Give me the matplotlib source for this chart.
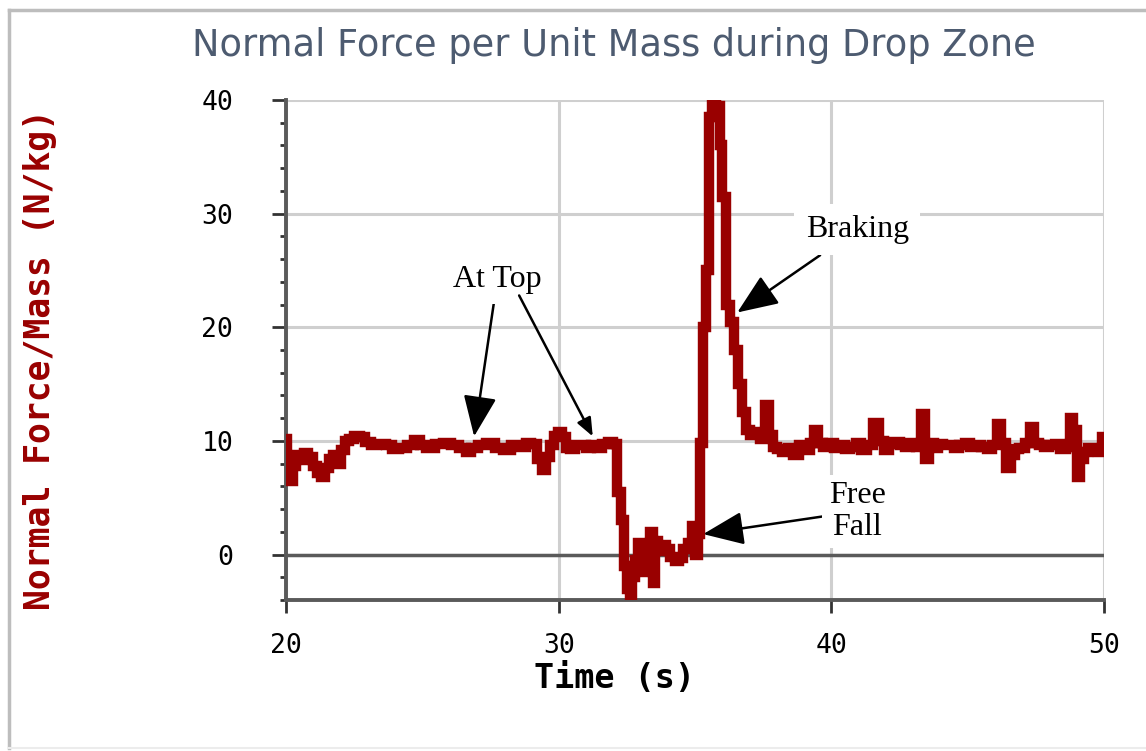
import matplotlib

matplotlib.use("Agg")
import matplotlib.pyplot as plt
from matplotlib.lines import Line2D
from matplotlib.ticker import MultipleLocator

# time (s) and normal force per unit mass (N/kg)
time_s = [
    20.0, 20.1, 20.2, 20.3, 20.45, 20.6, 20.75, 20.9, 21.05, 21.2, 21.35, 21.5,
    21.65, 21.8, 21.95, 22.1, 22.25, 22.4, 22.6, 22.8, 23.0, 23.2, 23.5, 23.8,
    24.0, 24.3, 24.6, 24.8, 25.0, 25.3, 25.6, 25.9, 26.2, 26.5, 26.7, 26.9,
    27.2, 27.5, 27.8, 28.1, 28.4, 28.7, 28.9, 29.1, 29.3, 29.45, 29.6, 29.75,
    29.9, 30.05, 30.2, 30.35, 30.5, 30.7, 30.9, 31.1, 31.3, 31.5, 31.7, 31.9,
    32.1, 32.2, 32.35, 32.45, 32.55, 32.65, 32.75, 32.85, 32.95, 33.05, 33.15,
    33.3, 33.4, 33.5, 33.6, 33.7, 33.85, 34.0, 34.2, 34.35, 34.5, 34.65, 34.8,
    34.95, 35.05, 35.15, 35.25, 35.35, 35.45, 35.55, 35.7, 35.85, 35.95, 36.05,
    36.2, 36.35, 36.5, 36.65, 36.8, 36.95, 37.1, 37.3, 37.5, 37.65, 37.8, 37.95,
    38.1, 38.3, 38.5, 38.7, 38.9, 39.1, 39.3, 39.45, 39.6, 39.8, 40.0, 40.2,
    40.4, 40.6, 40.8, 41.0, 41.2, 41.4, 41.65, 41.85, 42.0, 42.2, 42.4, 42.6,
    42.8, 43.0, 43.2, 43.35, 43.5, 43.65, 43.85, 44.0, 44.2, 44.4, 44.6, 44.8,
    45.0, 45.2, 45.4, 45.6, 45.8, 46.0, 46.15, 46.3, 46.5, 46.65, 46.8, 47.0,
    47.2, 47.35, 47.5, 47.7, 47.9, 48.1, 48.3, 48.5, 48.7, 48.8, 48.95, 49.05,
    49.2, 49.35, 49.5, 49.7, 49.85, 50.0,
]
force_per_mass = [
    10.2, 7.5, 6.5, 7.8, 8.8, 8.3, 8.9, 8.6, 7.8, 7.2, 6.8, 7.6,
    8.4, 8.8, 8.0, 9.2, 10.0, 10.2, 10.4, 10.3, 9.9, 9.6, 9.7, 9.6,
    9.3, 9.4, 9.6, 10.1, 9.6, 9.4, 9.7, 9.8, 9.6, 9.4, 9.0, 9.4,
    9.6, 9.8, 9.4, 9.2, 9.6, 9.5, 9.8, 9.7, 8.4, 7.4, 8.6, 9.6,
    10.4, 10.8, 10.3, 9.4, 9.3, 9.6, 9.6, 9.4, 9.6, 9.4, 9.7, 9.9,
    9.7, 5.5, 3.0, -1.0, -3.0, -3.8, -2.0, -0.5, 1.0, -1.5, 0.2,
    0.8, 2.0, -2.5, 1.2, 0.3, 0.8, 0.5, -0.2, -0.6, -0.3, 0.5, 1.0,
    2.5, 0.0, 1.8, 9.8, 20.0, 25.0, 38.5, 39.8, 39.5, 36.0, 31.5,
    22.0, 20.5, 18.0, 15.0, 12.5, 11.0, 10.5, 10.8, 10.2, 13.2, 10.5, 9.5,
    9.3, 9.0, 9.4, 8.8, 9.6, 9.2, 9.8, 11.0, 9.8, 9.5, 9.8, 9.4,
    9.6, 9.3, 9.5, 9.8, 9.2, 9.6, 11.6, 10.0, 9.2, 9.7, 9.9, 9.6,
    9.5, 9.8, 9.5, 12.4, 8.4, 9.8, 9.4, 9.7, 9.6, 9.6, 9.4, 9.6,
    9.8, 9.5, 9.6, 9.5, 9.3, 9.6, 11.5, 9.8, 7.6, 8.8, 9.3, 9.4,
    9.8, 11.2, 9.8, 9.6, 9.5, 9.6, 9.7, 9.3, 9.5, 12.0, 11.0, 6.8,
    8.4, 9.0, 9.4, 9.2, 9.0, 10.3,
]

x_ticks = [20, 30, 40, 50]
y_ticks = [0, 10, 20, 30, 40]

LINE_RED = "#990000"
GRID = "#cfcfcf"
AXIS_GREY = "#5a5a5a"

fig = plt.figure(figsize=(11.46, 7.51), dpi=100)
ax = fig.add_axes([286 / 1146, 1 - 600 / 751, 818 / 1146, 500 / 751])

ax.set_xlim(20, 50)
ax.set_ylim(-4, 40)
ax.set_xticks(x_ticks)
ax.set_yticks(y_ticks)
ax.yaxis.set_minor_locator(MultipleLocator(2))
ax.grid(True, color=GRID, lw=2.2, zorder=0)
ax.axhline(0, color=AXIS_GREY, lw=2.5, zorder=2.5)

for side in ("top", "right"):
    ax.spines[side].set_visible(False)
for side in ("left", "bottom"):
    ax.spines[side].set_color(AXIS_GREY)
    ax.spines[side].set_linewidth(2.8)

ax.tick_params(axis="y", which="major", length=10, width=2, color="#333333",
               pad=28, labelsize=19)
ax.tick_params(axis="y", which="minor", length=4, width=2, color="#333333")
ax.tick_params(axis="x", which="major", length=9, width=2, color="#333333",
               pad=15, labelsize=19)
for lab in ax.get_xticklabels() + ax.get_yticklabels():
    lab.set_family("DejaVu Sans Mono")

ax.plot(time_s, force_per_mass, color=LINE_RED, lw=7.5, drawstyle="steps-mid",
        solid_joinstyle="miter", zorder=3)

# annotations
arrow = dict(arrowstyle="-|>,head_length=1.1,head_width=0.45", color="black",
             lw=1.8, shrinkA=0, shrinkB=0)
text_kw = dict(family="Liberation Serif", fontsize=23, ha="center", va="center",
               zorder=6)
ax.annotate("At Top", xy=(26.9, 10.4), xytext=(27.75, 24.2), arrowprops=arrow,
            bbox=dict(boxstyle="square,pad=0.3", fc="white", ec="none"), **text_kw)
ax.annotate("", xy=(31.25, 10.4), xytext=(28.55, 22.8), arrowprops=arrow, zorder=6)
ax.annotate("Braking", xy=(36.55, 21.3), xytext=(40.95, 28.6), arrowprops=arrow,
            bbox=dict(boxstyle="square,pad=0.35", fc="white", ec="none"), **text_kw)
ax.annotate("Free\nFall", xy=(35.3, 1.8), xytext=(40.95, 3.8), arrowprops=arrow,
            linespacing=1.12,
            bbox=dict(boxstyle="square,pad=0.2", fc="white", ec="none"), **text_kw)

fig.text(614 / 1146, 1 - 45 / 751, "Normal Force per Unit Mass during Drop Zone",
         ha="center", va="center", fontsize=26.5, color="#4d5b70",
         family="DejaVu Sans")
fig.text(614 / 1146, 1 - 678 / 751, "Time (s)", ha="center", va="center",
         fontsize=24, fontweight="bold", family="DejaVu Sans Mono", color="black")
fig.text(40 / 1146, 1 - 360 / 751, "Normal Force/Mass (N/kg)", rotation=90,
         ha="center", va="center", fontsize=25, fontweight="bold",
         family="DejaVu Sans Mono", color=LINE_RED)

# grey frame of the original screenshot
fig.add_artist(Line2D([9 / 1146, 9 / 1146], [3 / 751, 1 - 10 / 751],
                      transform=fig.transFigure, color="#bdbdbd", lw=2.5))
fig.add_artist(Line2D([9 / 1146, 1.0], [1 - 10 / 751, 1 - 10 / 751],
                      transform=fig.transFigure, color="#bdbdbd", lw=2.5))
fig.add_artist(Line2D([9 / 1146, 1.0], [3 / 751, 3 / 751],
                      transform=fig.transFigure, color="#ececec", lw=1.5))

fig.savefig("out.png", dpi=100)
